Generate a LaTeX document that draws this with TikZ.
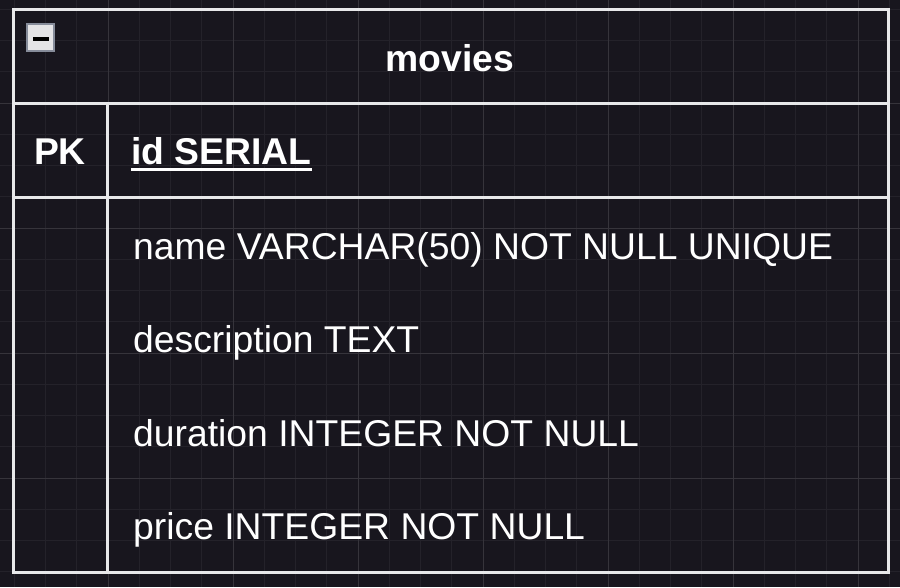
\documentclass[tikz,border=0pt]{standalone}
\usepackage{fontspec}
\setmainfont{Liberation Sans}
\usepackage{tikz}

\definecolor{bgdark}{HTML}{18161E}
\definecolor{gridminor}{HTML}{24222A}
\definecolor{gridmajor}{HTML}{36343B}
\definecolor{tableline}{HTML}{E8E8EA}
\definecolor{iconedge}{HTML}{868C9A}
\definecolor{iconfill}{HTML}{E4E4E6}

\tikzset{
	tabletext/.style={anchor=base west,inner sep=0pt,text=white,font=\fontsize{37.3}{44}\selectfont},
	tablehead/.style={anchor=base,inner sep=0pt,text=white,font=\fontsize{37.3}{44}\selectfont\bfseries},
	border/.style={draw=tableline,line width=3pt}
}

\begin{document}
\begin{tikzpicture}[x=1pt,y=-1pt]
		\fill[bgdark] (0, 0) rectangle (900, 587);
		\useasboundingbox (0, 0) rectangle (900, 587);
		% grid
		\foreach \gx in {0,...,28}
			\draw[gridminor,line width=1pt] (14.25+31.25*\gx, 0) -- (14.25+31.25*\gx, 587);
		\foreach \gy in {0,...,18}
			\draw[gridminor,line width=1pt] (0, 9.25+31.25*\gy) -- (900, 9.25+31.25*\gy);
		\foreach \gx in {0,...,6}
			\draw[gridmajor,line width=1pt] (108+125*\gx, 0) -- (108+125*\gx, 587);
		\foreach \gy in {0,...,4}
			\draw[gridmajor,line width=1pt] (0, -22+125*\gy) -- (900, -22+125*\gy);
		% table frame
		\coordinate (tl) at (13, 9);
		\coordinate (br) at (888, 572);
		\coordinate (hl) at (13, 103);
		\coordinate (hr) at (888, 103);
		\coordinate (pl) at (13, 197);
		\coordinate (pr) at (888, 197);
		\coordinate (vt) at (107, 103);
		\coordinate (vb) at (107, 572);
		\draw[border] (tl) rectangle (br);
		\draw[border] (hl) -- (hr);
		\draw[border] (pl) -- (pr);
		\draw[border] (vt) -- (vb);
		% collapse icon
		\node[draw=iconedge,fill=iconfill,line width=2pt,minimum size=27pt,inner sep=0pt] (icon) at (40.5, 37) {};
		\fill[black] ([xshift=-8pt]icon.center) rectangle ([xshift=8pt,yshift=-4pt]icon.center);
		% texts
		\node[tablehead] (title) at (450, 71) {movies};
		\node[tablehead] (pk) at (60, 164) {PK};
		\node[tabletext,font=\fontsize{37.3}{44}\selectfont\bfseries] (id) at (131, 164) {id SERIAL};
		\draw[white,line width=3pt] ([yshift=-5pt]id.base west) -- ([yshift=-5pt]id.base east);
		\node[tabletext] (name) at (133, 259) {name VARCHAR(50) NOT NULL UNIQUE};
		\node[tabletext] (desc) at (133, 352.5) {description TEXT};
		\node[tabletext] (dur) at (133, 446) {duration INTEGER NOT NULL};
		\node[tabletext] (price) at (133, 539) {price INTEGER NOT NULL};
	\end{tikzpicture}
\end{document}
